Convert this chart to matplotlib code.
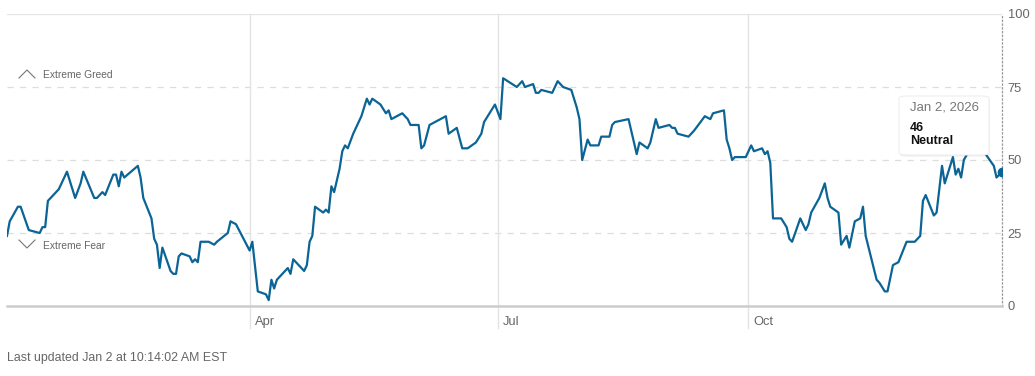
import pandas as pd
import numpy as np
import matplotlib
matplotlib.use('Agg')
import matplotlib.pyplot as plt
from matplotlib.patches import FancyBboxPatch
from matplotlib.transforms import ScaledTranslation

plt.rcParams['font.family'] = ['Liberation Sans', 'DejaVu Sans']

# fear & greed index (days counted from Jan 2, 2025)
start = pd.Timestamp('2025-01-02')
days = [0, 1, 4, 5, 8, 12, 13, 14, 15, 19, 22, 25, 27, 28, 32, 33, 35, 36, 39, 40,
        41, 42, 43, 48, 49, 50, 53, 54, 55, 56, 57, 60, 61, 62, 63, 64, 67, 68, 69, 70,
        71, 74, 76, 77, 81, 82, 84, 89, 90, 92, 95, 96, 97, 98, 99, 103, 104, 105, 109, 110,
        111, 112, 113, 116, 117, 118, 119, 120, 122, 123, 124, 125, 127, 130, 132, 133, 134, 137, 139, 140,
        141, 145, 147, 148, 151, 152, 153, 155, 159, 161, 162, 165, 167, 169, 172, 174, 175, 179, 181, 182,
        187, 189, 190, 193, 194, 195, 196, 200, 202, 204, 207, 209, 210, 211, 213, 214, 216, 217, 218, 221,
        222, 223, 228, 231, 232, 235, 236, 238, 239, 243, 244, 245, 246, 250, 252, 256, 258, 259, 263, 264,
        265, 266, 267, 271, 272, 273, 274, 277, 278, 279, 280, 281, 284, 286, 287, 288, 291, 293, 294, 295,
        298, 300, 301, 302, 305, 306, 308, 309, 311, 313, 314, 315, 319, 320, 322, 323, 325, 327, 330, 333,
        335, 336, 337, 340, 341, 343, 344, 347, 348, 349, 350, 351, 354, 357, 359, 362, 363, 365]
values = [24, 29, 34, 34, 26, 25, 27, 27, 36, 40, 46, 37, 42, 46, 37, 37, 39, 38, 45, 45,
          41, 46, 44, 48, 44, 37, 30, 23, 21, 13, 20, 12, 11, 11, 17, 18, 17, 15, 16, 15,
          22, 22, 21, 22, 25, 29, 28, 19, 22, 5, 4, 2, 9, 6, 9, 13, 11, 16, 12, 14,
          22, 24, 34, 32, 33, 32, 41, 39, 47, 53, 55, 54, 59, 65, 71, 69, 71, 69, 66, 67,
          64, 66, 64, 62, 62, 54, 55, 62, 64, 65, 59, 61, 54, 54, 56, 59, 63, 69, 64, 78,
          75, 77, 75, 76, 73, 73, 74, 73, 77, 75, 74, 68, 64, 50, 57, 55, 55, 55, 58, 58,
          62, 63, 64, 52, 56, 54, 56, 64, 61, 62, 61, 61, 59, 58, 60, 65, 64, 66, 67, 57,
          54, 50, 51, 51, 53, 55, 53, 54, 52, 53, 49, 30, 30, 27, 23, 22, 30, 26, 28, 32,
          37, 42, 37, 34, 32, 21, 24, 20, 29, 30, 34, 24, 9, 8, 5, 5, 14, 15, 22, 22,
          24, 36, 38, 31, 32, 48, 42, 51, 45, 47, 44, 50, 55, 56, 52, 48, 44, 46]

month_ticks = ['2025-04-01', '2025-07-01', '2025-10-01']
month_labels = ['Apr', 'Jul', 'Oct']
y_ticks = [0, 25, 50, 75, 100]

dates = start + pd.to_timedelta(days, unit='D')
line_color = '#0b6496'
grey = '#666666'

fig = plt.figure(figsize=(10.35, 3.76), dpi=100)
ax = fig.add_axes([7 / 1035, 70 / 376, 995 / 1035, 292 / 376])

ax.plot(dates, values, color=line_color, lw=1.6, zorder=3, solid_joinstyle='round')
ax.plot(dates[-1], values[-1], 'o', color=line_color, ms=6, zorder=4)

ax.set_xlim(start, dates[-1])
ax.set_ylim(0, 100)

# horizontal guides
for v in [25, 50, 75]:
    ax.axhline(v, color='#dddddd', lw=0.9, ls=(0, (5, 5)), zorder=1)
ax.axhline(100, color='#e6e6e6', lw=0.9, zorder=1)

# month lines go a bit below the axis, beside their labels
for d in month_ticks:
    ax.axvline(pd.Timestamp(d), ymin=-0.075, ymax=1, color='#e3e3e3', lw=1, clip_on=False, zorder=1)

ax.set_xticks(pd.to_datetime(month_ticks))
ax.set_xticklabels(month_labels, ha='left')
ax.tick_params(axis='x', length=0, pad=7, labelsize=9.3, labelcolor=grey)
for lab in ax.get_xticklabels():
    lab.set_transform(lab.get_transform() + ScaledTranslation(5 / 100, 0, fig.dpi_scale_trans))

ax.yaxis.tick_right()
ax.set_yticks(y_ticks)
ax.tick_params(axis='y', length=0, pad=4, labelsize=9.3, labelcolor=grey)

for s in ['top', 'left']:
    ax.spines[s].set_visible(False)
ax.spines['bottom'].set_color('#cccccc')
ax.spines['bottom'].set_linewidth(1.8)
ax.spines['right'].set_color('#999999')
ax.spines['right'].set_linewidth(0.9)
ax.spines['right'].set_linestyle((0, (1, 2)))

# zone labels with chevrons
ax.plot([12 / 995, 20 / 995, 28 / 995], [(306 - 78) / 292, (306 - 70) / 292, (306 - 78) / 292],
        transform=ax.transAxes, color='#777777', lw=0.8, clip_on=False)
ax.text(36 / 995, (306 - 75) / 292, 'Extreme Greed', transform=ax.transAxes,
        fontsize=7.4, color='#666666', va='center', ha='left')
ax.plot([12 / 995, 20 / 995, 28 / 995], [(306 - 240) / 292, (306 - 248) / 292, (306 - 240) / 292],
        transform=ax.transAxes, color='#777777', lw=0.8, clip_on=False)
ax.text(36 / 995, (306 - 246) / 292, 'Extreme Fear', transform=ax.transAxes,
        fontsize=7.4, color='#666666', va='center', ha='left')

# tooltip
x0, x1 = (899 - 7) / 995, (989 - 7) / 995
y0, y1 = (306 - 155) / 292, (306 - 96) / 292
shadow = FancyBboxPatch((x0 + 0.001, y0 - 0.006), x1 - x0, y1 - y0,
                        boxstyle='round,pad=0,rounding_size=0.008', transform=ax.transAxes,
                        fc='#000000', ec='none', alpha=0.06, zorder=5, clip_on=False)
box = FancyBboxPatch((x0, y0), x1 - x0, y1 - y0,
                     boxstyle='round,pad=0,rounding_size=0.008', transform=ax.transAxes,
                     fc='white', ec='#eeeeee', lw=0.8, zorder=6, clip_on=False)
ax.add_patch(shadow)
ax.add_patch(box)
tx = (910 - 7) / 995
ax.text(tx, (306 - 108) / 292, 'Jan 2, 2026', transform=ax.transAxes, fontsize=9.5,
        color='#777777', va='center', zorder=7)
ax.text(tx, (306 - 128) / 292, '46', transform=ax.transAxes, fontsize=9,
        color='#111111', fontweight='bold', va='center', zorder=7)
ax.text(tx, (306 - 141) / 292, 'Neutral', transform=ax.transAxes, fontsize=9,
        color='#111111', fontweight='bold', va='center', zorder=7)

fig.text(7 / 1035, 1 - 358 / 376, 'Last updated Jan 2 at 10:14:02 AM EST',
         fontsize=8.9, color=grey, va='center', ha='left')

fig.savefig('out.png', dpi=100)
